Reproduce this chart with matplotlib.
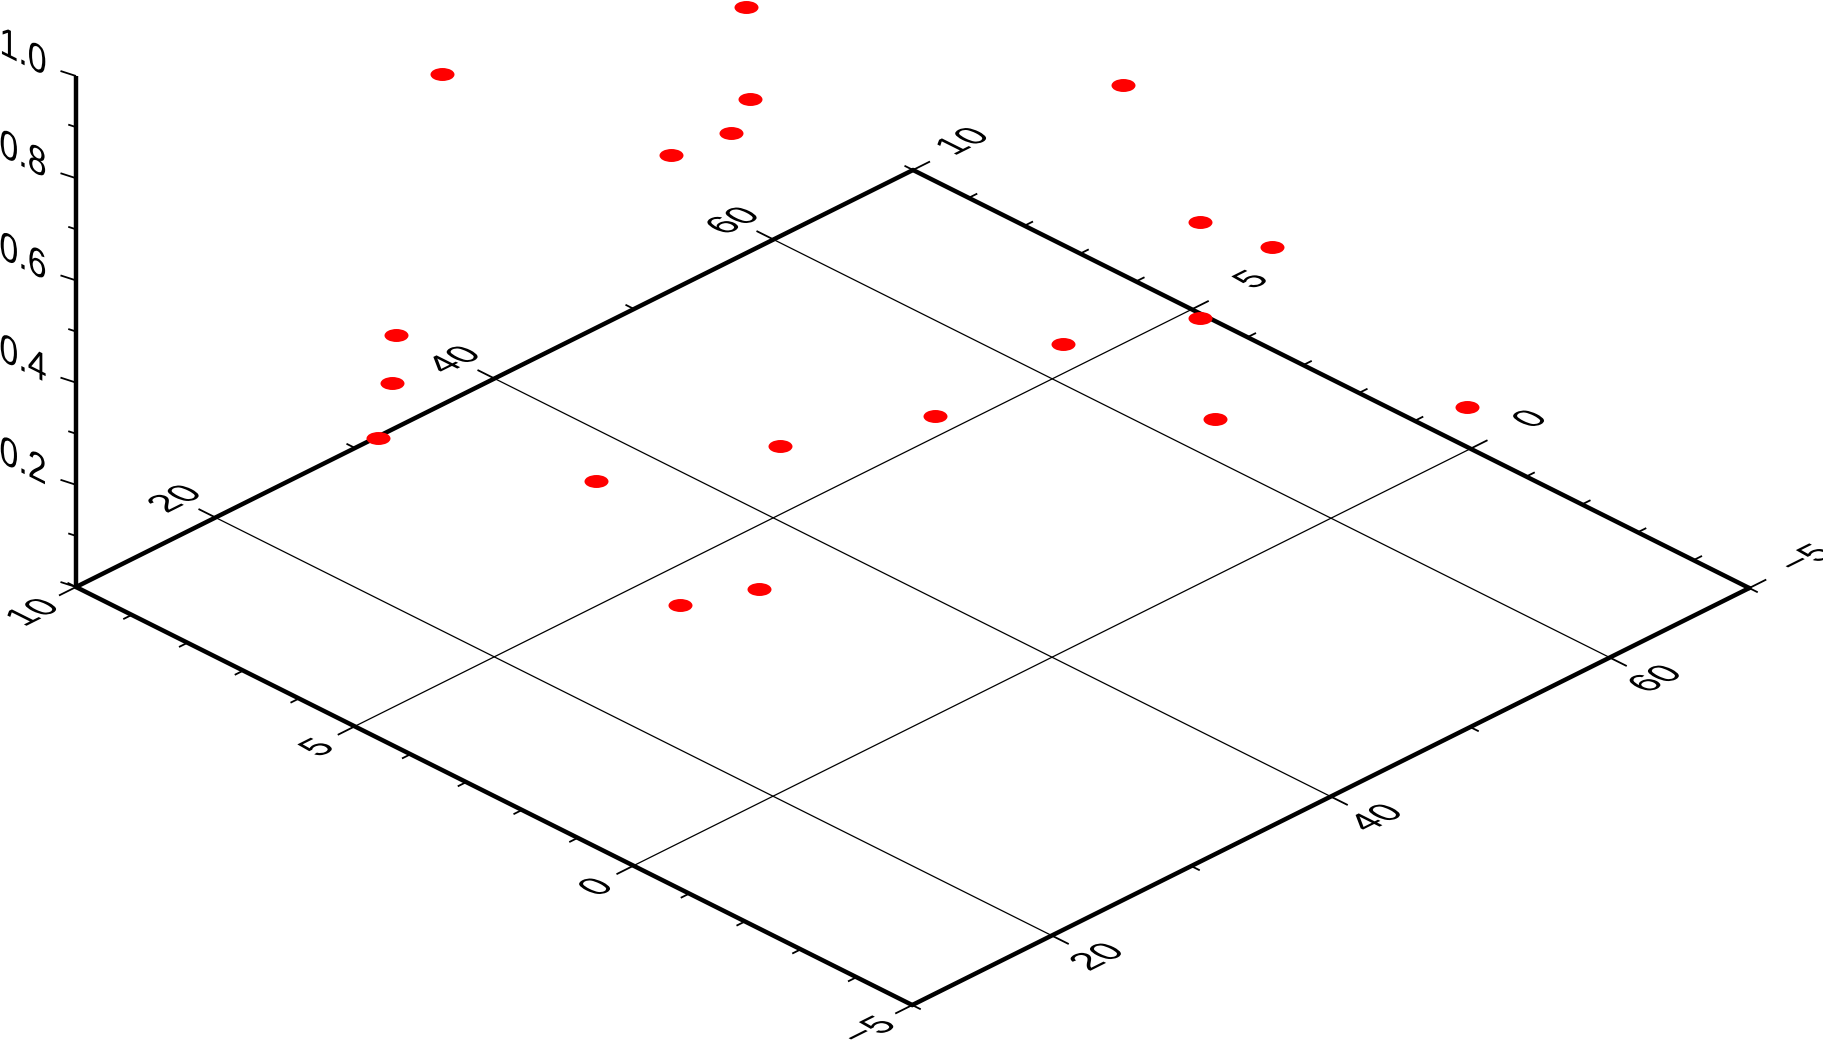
import matplotlib
matplotlib.use("Agg")
import matplotlib.pyplot as plt
from matplotlib.path import Path
from matplotlib.patheffects import AbstractPathEffect
from matplotlib.transforms import Affine2D

# Axis ranges and ticks
x_range = (-5, 10)
y_range = (10, 70)
z_range = (0, 1)
x_major = [10, 5, 0, -5]
x_minor = [9, 8, 7, 6, 4, 3, 2, 1, -1, -2, -3, -4]
y_major = [20, 40, 60]
y_minor = [10, 30, 50, 70]
z_major = [0, 0.2, 0.4, 0.6, 0.8, 1.0]
z_minor = [0.1, 0.3, 0.5, 0.7, 0.9]
z_labels = ["", "0.2", "0.4", "0.6", "0.8", "1.0"]
x_labels = ["10", "5", "0", "\u22125"]
y_labels = ["20", "40", "60"]

# Points (the picture fixes only their projection; z is estimated)
px = [6.17, 7.23, 5.38, 5.86, 6.46, 1.85, 0.99, 0.36, 1.09, 2.31,
      0.99, -1.52, 2.63, 3.93, 5.42, 7.07, 7.17, 7.23, 2.93, 3.80]
py = [42.70, 25.14, 39.86, 40.43, 38.51, 52.45, 54.56, 57.20, 54.96, 50.00,
      55.66, 63.70, 42.12, 36.24, 28.94, 21.20, 21.32, 20.56, 30.72, 28.55]
pz = [0.90, 0.95, 0.80, 0.70, 0.65, 0.85, 0.60, 0.55, 0.40, 0.35,
      0.20, 0.25, 0.30, 0.25, 0.20, 0.50, 0.40, 0.30, 0.10, 0.05]

W, H = 1824, 1042
DPI = 100
ORIGIN = (76.0, 587.0)
XU = (55.75, 27.87)   # pixels per unit of -x
YU = (13.95, -6.95)   # pixels per unit of +y
ZU = 511.0            # pixels per unit of z


def project(x, y, z=0.0):
    a = 10 - x
    b = y - 10
    return (ORIGIN[0] + XU[0] * a + YU[0] * b,
            ORIGIN[1] + XU[1] * a + YU[1] * b - ZU * z)


class PlaneText(AbstractPathEffect):
    """Lays the glyphs of a text into the perspective plane of the axis."""

    def __init__(self, text_xy, ax, matrix):
        super().__init__()
        self.xy = text_xy
        self.ax = ax
        self.m = matrix

    def draw_path(self, renderer, gc, tpath, affine, rgbFace=None):
        cx, cy = self.ax.transData.transform(self.xy)
        a, b, c, d = self.m
        t = (affine + Affine2D().translate(-cx, -cy)
             + Affine2D.from_values(a, b, c, d, 0, 0)
             + Affine2D().translate(cx, cy))
        renderer.draw_path(gc, tpath, t, rgbFace)


PLANE = (0.90, 0.45, -0.90, 0.45)
WALL = (0.89, -0.445, 0.0, 1.05)

fig = plt.figure(figsize=(W / DPI, H / DPI), dpi=DPI, facecolor="white")
ax = fig.add_axes([0, 0, 1, 1])
ax.set_xlim(0, W)
ax.set_ylim(H, 0)
ax.axis("off")


def seg(p, q, lw, z=2, cap="butt"):
    ax.plot([p[0], q[0]], [p[1], q[1]], color="black", lw=lw, zorder=z,
            solid_capstyle=cap)


def label(xy, s, m):
    t = ax.text(xy[0], xy[1], s, ha="center", va="center", fontsize=27.5,
                family="Liberation Sans", color="black", zorder=5)
    t.set_path_effects([PlaneText(xy, ax, m)])


GRID = 0.9
TICK = 1.3
FRAME = 3.2
xmin, xmax = x_range
ymin, ymax = y_range

# Grid lines
for v in [5, 0]:
    seg(project(v, ymin), project(v, ymax), GRID, 1)
for v in y_major:
    seg(project(xmin, v), project(xmax, v), GRID, 1)

# Frame
seg(project(xmax, ymin), project(xmin, ymin), FRAME, 3, "round")
seg(project(xmin, ymin), project(xmin, ymax), FRAME, 3, "round")
seg(project(xmin, ymax), project(xmax, ymax), FRAME, 3, "round")
seg(project(xmax, ymax), project(xmax, ymin), FRAME, 3, "round")
seg(project(xmax, ymin, 0), project(xmax, ymin, 1), FRAME, 3)


def tick(p, d, scale=1.0):
    seg(p, (p[0] + d[0] * scale, p[1] + d[1] * scale), TICK, 2)


# x ticks on both sides of the plane
for vals, scale in [(x_major, 1.0), (x_minor, 0.5)]:
    for v in vals:
        tick(project(v, ymin), (-17, 8.5), scale)
        tick(project(v, ymax), (17, -8.5), scale)
# y ticks on both sides of the plane
for vals, scale in [(y_major, 1.0), (y_minor, 0.5)]:
    for v in vals:
        tick(project(xmax, v), (-17, -8.5), scale)
        tick(project(xmin, v), (17, 8.5), scale)
# z ticks
for vals, scale in [(z_major, 1.0), (z_minor, 0.5)]:
    for v in vals:
        tick(project(xmax, ymin, v), (-15.5, -5), scale)

# Tick labels
for v, s in zip(x_major, x_labels):
    p = project(v, ymin)
    dx, dy = (-42, 26) if len(s) == 2 else (-36, 22)
    label((p[0] + dx, p[1] + dy), s, PLANE)
    p = project(v, ymax)
    if s == "10":
        dx, dy = 51, -28
    elif s == "\u22125":
        dx, dy = 58, -29
    else:
        dx, dy = 61, -29
    label((p[0] + dx, p[1] + dy), s, PLANE)
for v, s in zip(y_major, y_labels):
    p = project(xmax, v)
    label((p[0] - 39, p[1] - 18), s, PLANE)
    p = project(xmin, v)
    label((p[0] + 47, p[1] + 22), s, PLANE)
for v, s in zip(z_major, z_labels):
    if s:
        p = project(xmax, ymin, v)
        label((p[0] - 53, p[1] - 22), s, WALL)

# Points: flattened discs
disc = Path.unit_circle().transformed(Affine2D().scale(1, 0.54))
sx, sy = zip(*[project(a, b, c) for a, b, c in zip(px, py, pz)])
ax.scatter(sx, sy, marker=disc, s=(24 * 72 / DPI) ** 2, color="#ff0000",
           linewidths=0, zorder=4, clip_on=False)

fig.savefig("out.png", dpi=DPI, facecolor="white")
